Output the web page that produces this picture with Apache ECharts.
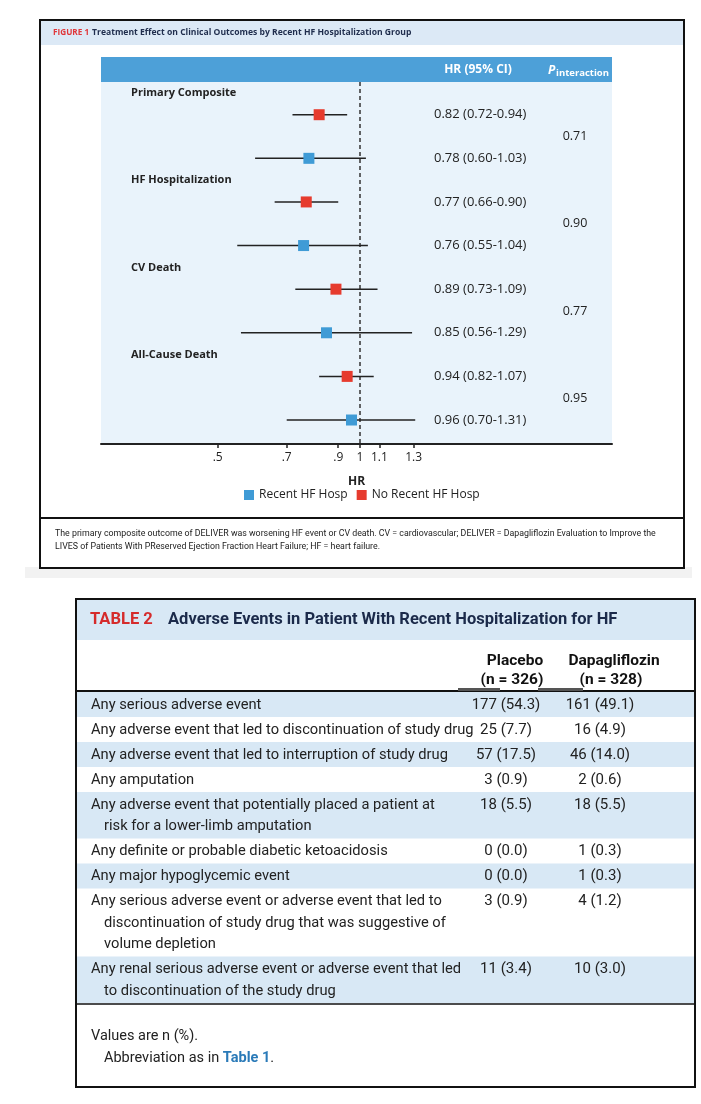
<!DOCTYPE html>
<html><head><meta charset="utf-8">
<script src="https://cdn.jsdelivr.net/npm/echarts@6/dist/echarts.min.js"></script>
<style>html,body{margin:0;padding:0;background:#fff}#c{width:701px;height:1104px}</style>
</head><body><div id="c"></div>
<script>
// ---------- DATA ----------
const outcomes = ['Primary Composite', 'HF Hospitalization', 'CV Death', 'All-Cause Death'];
const noRecentHR = [0.82, 0.77, 0.89, 0.94];
const noRecentLo = [0.72, 0.66, 0.73, 0.82];
const noRecentHi = [0.94, 0.90, 1.09, 1.07];
const recentHR = [0.78, 0.76, 0.85, 0.96];
const recentLo = [0.60, 0.55, 0.56, 0.70];
const recentHi = [1.03, 1.04, 1.29, 1.31];
const pInteraction = ['0.71', '0.90', '0.77', '0.95'];
const xTicks = [0.5, 0.7, 0.9, 1, 1.1, 1.3];
const seriesNames = ['Recent HF Hosp', 'No Recent HF Hosp'];

const tableRowLabels = [
  ['Any serious adverse event'],
  ['Any adverse event that led to discontinuation of study drug'],
  ['Any adverse event that led to interruption of study drug'],
  ['Any amputation'],
  ['Any adverse event that potentially placed a patient at', 'risk for a lower-limb amputation'],
  ['Any definite or probable diabetic ketoacidosis'],
  ['Any major hypoglycemic event'],
  ['Any serious adverse event or adverse event that led to', 'discontinuation of study drug that was suggestive of', 'volume depletion'],
  ['Any renal serious adverse event or adverse event that led', 'to discontinuation of the study drug']
];
const placeboVals = ['177 (54.3)', '25 (7.7)', '57 (17.5)', '3 (0.9)', '18 (5.5)', '0 (0.0)', '0 (0.0)', '3 (0.9)', '11 (3.4)'];
const dapaVals = ['161 (49.1)', '16 (4.9)', '46 (14.0)', '2 (0.6)', '18 (5.5)', '1 (0.3)', '1 (0.3)', '4 (1.2)', '10 (3.0)'];
const tableColHeads = [['Placebo', '(n = 326)'], ['Dapagliflozin', '(n = 328)']];

// ---------- STYLE ----------
const FF = "'Open Sans', 'Noto Sans', sans-serif";
const TF = "Roboto, 'Noto Sans', sans-serif";
const BLUE = '#3f9bd6', RED = '#e63b2e', INK = '#222';

const chart = echarts.init(document.getElementById('c'), null, {renderer: 'canvas', width: 701, height: 1104});

function slotOf(g, kind) { return 4 * g + ({label: 0, noRecent: 1, p: 2, recent: 3})[kind]; }
const recentData = outcomes.map((o, i) => [recentHR[i], recentLo[i], recentHi[i], slotOf(i, 'recent')]);
const noRecentData = outcomes.map((o, i) => [noRecentHR[i], noRecentLo[i], noRecentHi[i], slotOf(i, 'noRecent')]);

function renderCI(color) {
  return function (params, api) {
    const y = api.value(3);
    const p0 = api.coord([api.value(1), y]);
    const p1 = api.coord([api.value(2), y]);
    const pc = api.coord([api.value(0), y]);
    const s = 11;
    return {type: 'group', children: [
      {type: 'line', shape: {x1: p0[0], y1: p0[1], x2: p1[0], y2: p1[1]}, style: {stroke: INK, lineWidth: 1.5}},
      {type: 'rect', shape: {x: pc[0] - s / 2, y: pc[1] - s / 2, width: s, height: s}, style: {fill: color}}
    ]};
  };
}

function fmtTick(v) {
  const r = Math.round(v * 10) / 10;
  return String(r).replace(/^0\./, '.');
}

chart.setOption({
  animation: false,
  grid: {left: 101, top: 82, width: 511, height: 362, show: true, backgroundColor: '#e9f3fb', borderWidth: 0},
  xAxis: {
    type: 'log', logBase: 10, min: 0.283, max: 3.42, z: 6,
    axisLine: {onZero: false, lineStyle: {color: INK, width: 2}},
    axisTick: {customValues: xTicks, length: 4, lineStyle: {color: INK, width: 1.5}},
    axisLabel: {customValues: xTicks, formatter: fmtTick, color: INK, fontSize: 12, fontFamily: FF, margin: 8},
    splitLine: {show: false}, minorTick: {show: false}, minorSplitLine: {show: false},
    name: 'HR', nameLocation: 'middle', nameGap: 32,
    nameTextStyle: {fontWeight: 'bold', fontSize: 12, color: INK, fontFamily: FF}
  },
  yAxis: {type: 'value', inverse: true, min: -0.5, max: 16.1, show: false},
  legend: {
    data: seriesNames, left: 244, top: 489, padding: 0, itemWidth: 10, itemHeight: 10, itemGap: 9,
    icon: 'rect', textStyle: {fontSize: 12, color: INK, fontFamily: FF}
  },
  series: [
    {name: seriesNames[0], type: 'custom', renderItem: renderCI(BLUE), itemStyle: {color: BLUE},
     encode: {x: [0, 1, 2], y: 3}, data: recentData, z: 5,
     markLine: {silent: true, symbol: ['none', 'none'], label: {show: false},
       lineStyle: {color: '#333', width: 1.5, type: [4, 3]}, data: [{xAxis: 1}]}},
    {name: seriesNames[1], type: 'custom', renderItem: renderCI(RED), itemStyle: {color: RED},
     encode: {x: [0, 1, 2], y: 3}, data: noRecentData, z: 5}
  ]
});

// ---------- GRAPHIC (frames, texts, table) ----------
const py = s => chart.convertToPixel({yAxisIndex: 0}, s);
function T(text, x, y, o) {
  o = o || {};
  return {type: 'text', z: 10, style: {
    text: text, x: x, y: y, fill: o.fill || INK,
    fontSize: o.size || 12, fontWeight: o.weight || 'normal', fontStyle: o.style || 'normal',
    fontFamily: o.family || FF, align: o.align || 'left', verticalAlign: 'middle',
    textAlign: o.align || 'left', textVerticalAlign: 'middle'
  }};
}
function R(x, y, w, h, fill, stroke, lw, z) {
  return {type: 'rect', z: z == null ? -5 : z, shape: {x: x, y: y, width: w, height: h},
    style: {fill: fill || 'none', stroke: stroke || null, lineWidth: lw || 0}};
}
function L(x1, y1, x2, y2, stroke, lw, z) {
  return {type: 'line', z: z == null ? 3 : z, shape: {x1: x1, y1: y1, x2: x2, y2: y2}, style: {stroke: stroke, lineWidth: lw}};
}

const els = [];
// figure frame
els.push(R(25, 567, 667, 11, '#f2f2f2', null, 0, -10));
els.push(R(40, 20, 644, 548, '#fff', '#111', 2, -6));
els.push(R(41, 21, 642, 24, '#dce9f6', null, 0, -5));
els.push(L(40, 518, 684, 518, '#111', 2, 3));
els.push(T('FIGURE 1', 53, 33, {fill: '#e0363a', size: 8.2, weight: 'bold'}));
els.push(T('Treatment Effect on Clinical Outcomes by Recent HF Hospitalization Group', 92, 33, {fill: '#1f2d4d', size: 8.6, weight: 'bold'}));
// forest header band
els.push(R(101, 57, 511, 25, '#4da0d8', null, 0, 2));
els.push(T('HR (95% CI)', 478, 70, {fill: '#fff', size: 12, weight: 'bold', align: 'center'}));
els.push(T('P', 548, 71, {fill: '#fff', size: 12, weight: 'bold', style: 'italic'}));
els.push(T('interaction', 556, 73, {fill: '#fff', size: 9.5, weight: 'bold'}));
// forest texts
outcomes.forEach((o, i) => {
  els.push(T(o, 131, py(slotOf(i, 'label')), {size: 11, weight: 'bold'}));
  els.push(T(noRecentHR[i].toFixed(2) + ' (' + noRecentLo[i].toFixed(2) + '-' + noRecentHi[i].toFixed(2) + ')', 434, py(slotOf(i, 'noRecent')), {size: 13}));
  els.push(T(recentHR[i].toFixed(2) + ' (' + recentLo[i].toFixed(2) + '-' + recentHi[i].toFixed(2) + ')', 434, py(slotOf(i, 'recent')), {size: 13}));
  els.push(T(pInteraction[i], 575, py(slotOf(i, 'p')), {size: 12.5, align: 'center'}));
});
// caption
els.push(T('The primary composite outcome of DELIVER was worsening HF event or CV death. CV = cardiovascular; DELIVER = Dapagliflozin Evaluation to Improve the', 55, 534, {size: 8.8, family: TF}));
els.push(T('LIVES of Patients With PReserved Ejection Fraction Heart Failure; HF = heart failure.', 55, 547, {size: 8.8, family: TF}));

// table
els.push(R(76, 599, 619, 488, '#fff', '#111', 2, -6));
els.push(R(77, 600, 617, 40, '#d8e8f5', null, 0, -5));
els.push(T('TABLE 2', 90, 620, {fill: '#d52b2b', size: 16.5, weight: 'bold', family: TF}));
els.push(T('Adverse Events in Patient With Recent Hospitalization for HF', 168, 620, {fill: '#1b2a4a', size: 16.5, weight: 'bold', family: TF}));
const colX = [515, 614];
tableColHeads.forEach((h, j) => {
  els.push(T(h[0], colX[j], 661, {size: 15.5, weight: 'bold', family: TF, align: 'center', fill: '#111'}));
  els.push(T(h[1], colX[j] - 3, 680, {size: 15.5, weight: 'bold', family: TF, align: 'center', fill: '#111'}));
});
const valX = [506, 600];
let yTop = 692;
const baseH = 25, lineH = 21.5;
tableRowLabels.forEach((lines, i) => {
  const h = baseH + (lines.length - 1) * lineH;
  if (i % 2 === 0) els.push(R(77, yTop, 617, h, '#d8e8f5', null, 0, -5));
  lines.forEach((ln, k) => {
    els.push(T(ln, k === 0 ? 91 : 104, yTop + 13 + k * lineH, {size: 14.7, family: TF}));
  });
  els.push(T(placeboVals[i], valX[0], yTop + 13, {size: 15, family: TF, align: 'center'}));
  els.push(T(dapaVals[i], valX[1], yTop + 13, {size: 15, family: TF, align: 'center'}));
  yTop += h;
});
els.push(L(76, 691, 695, 691, '#111', 2));
els.push(R(458, 688, 42, 3, '#555', null, 0, 4));
els.push(R(538, 688, 45, 3, '#555', null, 0, 4));
els.push(L(76, yTop + 1, 695, yTop + 1, '#111', 1.5));
els.push(T('Values are n (%).', 91, 1036, {size: 14.5, family: TF}));
els.push({type: 'text', z: 10, style: {
  text: '{a|Abbreviation as in }{b|Table 1}{a|.}', x: 104, y: 1058, verticalAlign: 'middle', textVerticalAlign: 'middle',
  rich: {a: {fontSize: 14.5, fontFamily: TF, fill: INK, color: INK}, b: {fontSize: 14.5, fontFamily: TF, fontWeight: 'bold', fill: '#2a7ab8', color: '#2a7ab8'}}
}});

chart.setOption({graphic: {elements: els}});
</script>
</body></html>
